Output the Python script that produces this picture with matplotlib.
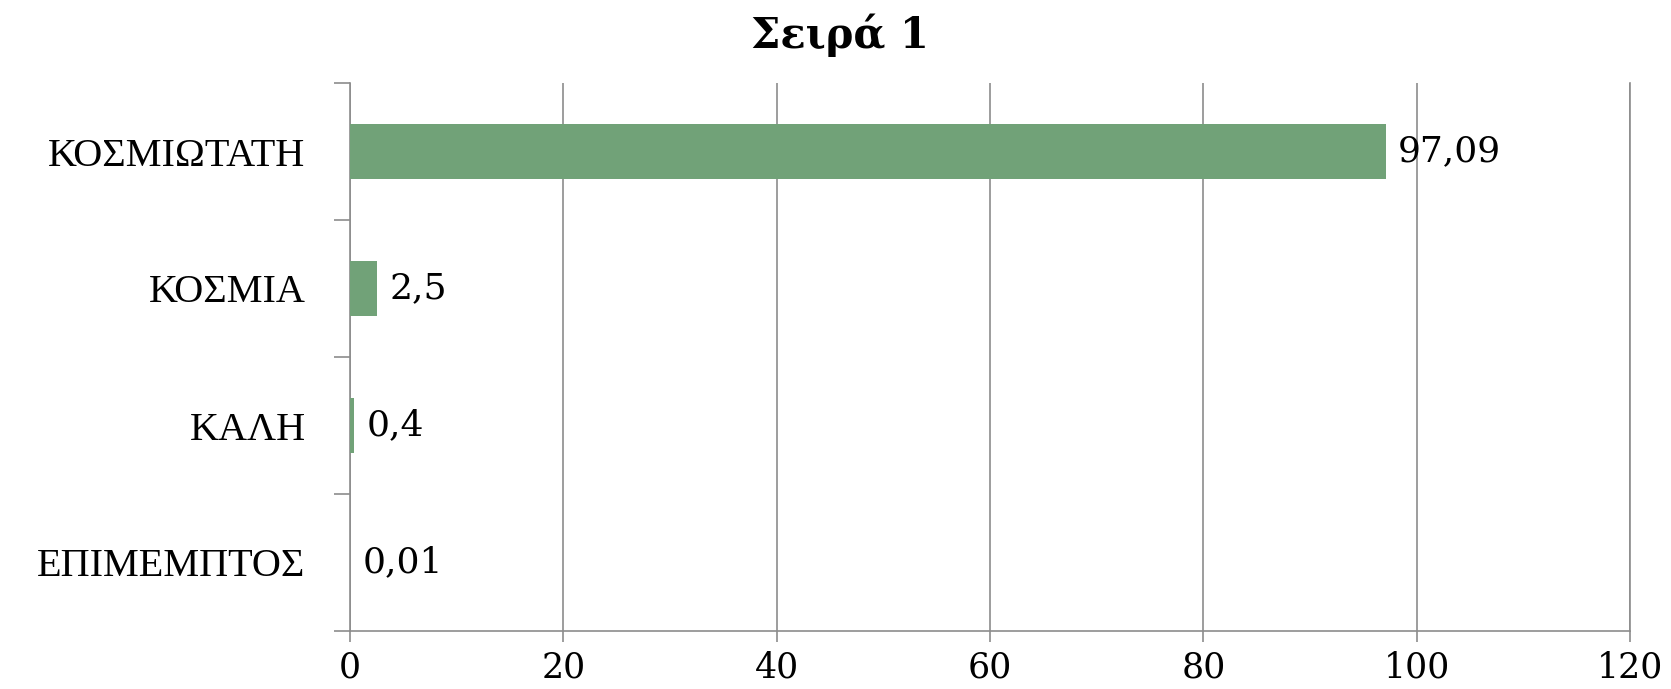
import matplotlib
matplotlib.use("Agg")
import matplotlib.pyplot as plt
from matplotlib.ticker import FixedLocator

categories = ["ΚΟΣΜΙΩΤΑΤΗ", "ΚΟΣΜΙΑ", "ΚΑΛΗ", "ΕΠΙΜΕΜΠΤΟΣ"]
values = [97.09, 2.5, 0.4, 0.01]
value_labels = ["97,09", "2,5", "0,4", "0,01"]
x_ticks = [0, 20, 40, 60, 80, 100, 120]
title = "Σειρά 1"

W, H = 1671, 689
fig = plt.figure(figsize=(W / 100, H / 100), dpi=100)
ax = fig.add_axes([350 / W, 1 - 631 / H, 1280 / W, 548 / H])

n = len(categories)
pos = [n - 1 - i for i in range(n)]
bars = ax.barh(pos, values, height=0.4, color="#71A278", zorder=3)

ax.set_xlim(0, 120)
ax.set_ylim(-0.5, n - 0.5)
ax.set_xticks(x_ticks)
ax.set_xticklabels([str(t) for t in x_ticks], family="DejaVu Serif", fontsize=25)

ax.yaxis.set_major_locator(FixedLocator([i - 0.5 for i in range(n + 1)]))
ax.set_yticklabels([])
ax.yaxis.set_minor_locator(FixedLocator(pos))
ax.set_yticklabels(categories, minor=True, family="Liberation Serif", fontsize=29)
ax.tick_params(axis="y", which="minor", length=0, pad=32)
ax.tick_params(axis="y", which="major", length=11.5, width=1.2, color="#8c8c8c")
ax.tick_params(axis="x", which="major", length=8, width=1.2, color="#8c8c8c", pad=6)

ax.grid(axis="x", color="#8c8c8c", linewidth=1.2, zorder=0)
ax.spines["top"].set_visible(False)
for s in ["left", "bottom", "right"]:
    ax.spines[s].set_color("#8c8c8c")
    ax.spines[s].set_linewidth(1.2)

ax.bar_label(bars, labels=value_labels, padding=9, family="DejaVu Serif", fontsize=26)

fig.text(840 / W, 1 - 35 / H, title, ha="center", va="center",
         family="DejaVu Serif", fontweight="bold", fontsize=30)

fig.savefig("out.png", dpi=100)
